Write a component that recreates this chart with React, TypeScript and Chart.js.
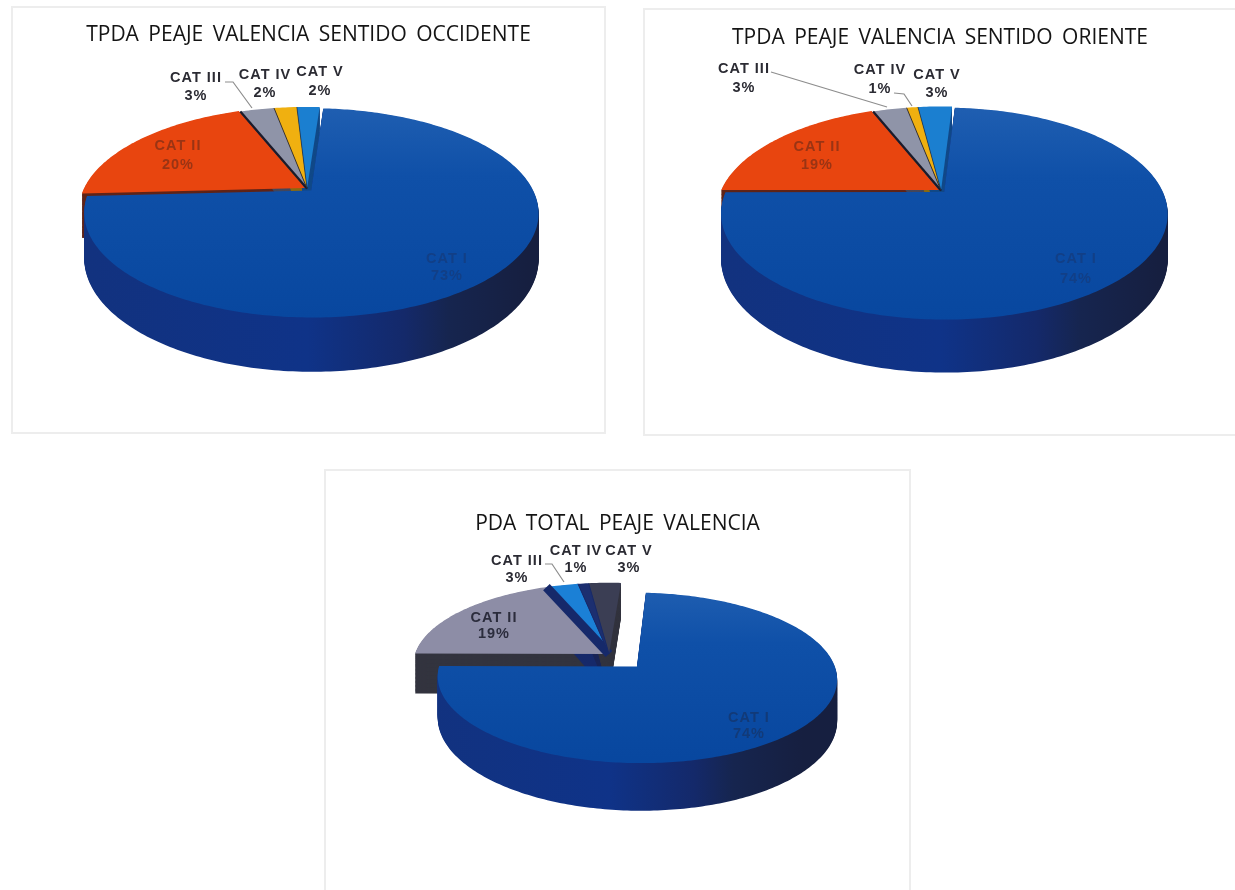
import React, { useEffect, useRef } from "react";
import { Chart, registerables } from "chart.js";

Chart.register(...registerables);

const categories = ["CAT I", "CAT II", "CAT III", "CAT IV", "CAT V"];
const occidenteValues = [73, 20, 3, 2, 2];
const orienteValues = [74, 19, 3, 1, 3];
const totalValues = [74, 19, 3, 1, 3];
const occidenteTitle = "TPDA PEAJE VALENCIA SENTIDO OCCIDENTE";
const orienteTitle = "TPDA PEAJE VALENCIA SENTIDO ORIENTE";
const totalTitle = "PDA TOTAL PEAJE VALENCIA";

const warmFaces = ["#0b4ca3", "#e8450f", "#8f94a8", "#f0b010", "#1b7fd0"];
const warmSides = ["#10358a", "#5f2418", "#44465a", "#8a6a10", "#124a88"];
const warmLabels = ["#123f86", "#9a3414", "#2b2b33", "#2b2b33", "#2b2b33"];
const coolFaces = ["#0b4ca3", "#8d8da6", "#1b80d6", "#1c2f70", "#3b3e54"];
const coolSides = ["#10358a", "#33343f", "#16296a", "#1a2557", "#33343f"];
const coolLabels = ["#123a78", "#2b2c3c", "#2b2b33", "#2b2b33", "#2b2b33"];

type Geo = { ax: number; ay: number; rx: number; ry: number; k: number; d: number; e: number };
type Cfg = {
  panel: [number, number, number, number];
  title: string;
  titleTop: number;
  values: number[];
  offsets: number[];
  rotation: number;
  faces: string[];
  sides: string[];
  labelColors: string[];
  geo: Geo;
  walls: number[];
  wallColor: string;
  labelAt: [number, number, number][];
  leaders: [number, number][][];
};

const configs: Cfg[] = [
  {
    panel: [11, 6, 595, 428],
    title: occidenteTitle, titleTop: 14,
    values: occidenteValues, offsets: [5, 2, 0, 0, 0], rotation: 4,
    faces: warmFaces, sides: warmSides, labelColors: warmLabels,
    geo: { ax: 305, ay: 186.5, rx: 221, ry: 99, k: -0.2135, d: 44, e: 0.08 },
    walls: [0, 0, 2.2, 0.8, 0.6], wallColor: "#1b1b2b",
    labelAt: [[445, 257, 274], [176, 144, 163], [194, 76, 94], [263, 73, 91], [318, 70, 89]],
    leaders: [[[223, 80], [231, 80], [250, 106]]],
  },
  {
    panel: [643, 8, 594, 428],
    title: orienteTitle, titleTop: 15,
    values: orienteValues, offsets: [4, 2, 0, 0, 0], rotation: 3.5,
    faces: warmFaces, sides: warmSides, labelColors: warmLabels,
    geo: { ax: 939, ay: 188.5, rx: 218, ry: 101, k: -0.2019, d: 44, e: 0.07 },
    walls: [0, 0, 2.2, 0.8, 0.6], wallColor: "#1b1b2b",
    labelAt: [[1074, 257, 277], [815, 145, 163], [742, 67, 86], [878, 68, 87], [935, 73, 91]],
    leaders: [[[769, 70], [885, 105]], [[892, 91], [902, 92], [910, 104]]],
  },
  {
    panel: [324, 469, 587, 430],
    title: totalTitle, titleTop: 40,
    values: totalValues, offsets: [33, 0, 0, 0, 0], rotation: 4,
    faces: coolFaces, sides: coolSides, labelColors: coolLabels,
    geo: { ax: 607, ay: 652, rx: 194, ry: 80.5, k: -0.13, d: 40, e: 0.07 },
    walls: [0, 0, 9, 1, 1], wallColor: "#16296a",
    labelAt: [[747, 716, 732], [492, 616, 632], [515, 559, 576], [574, 549, 566], [627, 549, 566]],
    leaders: [[[543, 562], [550, 562], [562, 580]]],
  },
];

function makePlugin(cfg: Cfg) {
  const [px, py] = cfg.panel;
  const g = cfg.geo;
  const project = (u: number, v: number, t: number) => {
    const w = 1 + g.k * v;
    return {
      x: g.ax - px + (g.rx * u) / w,
      y: g.ay - py + ((g.ry * v) / w) * (1 + t * g.e) + t * g.d,
    };
  };
  const trace = (ctx: CanvasRenderingContext2D, arc: any, t: number) => {
    const off = (arc.options.offset || 0) / arc.outerRadius;
    const mid = (arc.startAngle + arc.endAngle) / 2;
    const ou = Math.cos(mid) * off;
    const ov = Math.sin(mid) * off;
    const n = Math.max(2, Math.ceil((arc.endAngle - arc.startAngle) * 60));
    ctx.beginPath();
    const o = project(ou, ov, t);
    ctx.moveTo(o.x, o.y);
    for (let i = 0; i <= n; i++) {
      const a = arc.startAngle + ((arc.endAngle - arc.startAngle) * i) / n;
      const p = project(ou + Math.cos(a), ov + Math.sin(a), t);
      ctx.lineTo(p.x, p.y);
    }
    ctx.closePath();
  };
  const steps = Math.ceil(g.d + 10);
  const drawSide = (ctx: CanvasRenderingContext2D, arc: any, fill: any) => {
    for (let s = steps; s > 0; s--) {
      trace(ctx, arc, s / steps);
      ctx.fillStyle = fill;
      ctx.fill();
    }
  };
  return {
    id: "tilted" + cfg.title,
    beforeDraw(chart: any) {
      const ctx: any = chart.ctx;
      ctx.letterSpacing = "0px";
      ctx.wordSpacing = "4px";
    },
    beforeDatasetsDraw(chart: any) {
      const ctx: CanvasRenderingContext2D = chart.ctx;
      const arcs = chart.getDatasetMeta(0).data as any[];
      const left = g.ax - px - g.rx;
      const right = g.ax - px + g.rx;
      const sideGrad = ctx.createLinearGradient(left, 0, right, 0);
      sideGrad.addColorStop(0, "#12327f");
      sideGrad.addColorStop(0.5, "#0f3388");
      sideGrad.addColorStop(0.72, "#14296a");
      sideGrad.addColorStop(0.82, "#16254f");
      sideGrad.addColorStop(1, "#161f40");
      const topY = g.ay - py - g.ry * 0.9;
      const faceGrad = ctx.createLinearGradient(0, topY, 0, topY + g.ry * 2.2);
      faceGrad.addColorStop(0, "#2160b2");
      faceGrad.addColorStop(0.35, "#0f50a8");
      faceGrad.addColorStop(1, "#08479f");
      const others = [1, 2, 3, 4];
      ctx.save();
      for (const i of others) drawSide(ctx, arcs[i], cfg.sides[i]);
      for (const i of others) {
        const arc = arcs[i];
        trace(ctx, arc, 0);
        ctx.fillStyle = cfg.faces[i];
        ctx.fill();
        if (cfg.walls[i] > 0) {
          const a = project(0, 0, 0);
          const b = project(Math.cos(arc.startAngle), Math.sin(arc.startAngle), 0);
          ctx.strokeStyle = cfg.wallColor;
          ctx.lineWidth = cfg.walls[i];
          ctx.beginPath();
          ctx.moveTo(a.x, a.y);
          ctx.lineTo(b.x, b.y);
          ctx.stroke();
        }
      }
      drawSide(ctx, arcs[0], sideGrad);
      trace(ctx, arcs[0], 0);
      ctx.fillStyle = faceGrad;
      ctx.fill();
      ctx.restore();
      return false;
    },
    afterDraw(chart: any) {
      const ctx: any = chart.ctx;
      ctx.save();
      ctx.strokeStyle = "#8d8d8d";
      ctx.lineWidth = 1.2;
      for (const line of cfg.leaders) {
        ctx.beginPath();
        line.forEach(([x, y], j) => (j ? ctx.lineTo(x - px, y - py) : ctx.moveTo(x - px, y - py)));
        ctx.stroke();
      }
      ctx.letterSpacing = "1px";
      ctx.wordSpacing = "0px";
      ctx.font = "bold 14.5px 'Liberation Sans'";
      ctx.textAlign = "center";
      ctx.textBaseline = "middle";
      cfg.labelAt.forEach(([x, y1, y2], i) => {
        ctx.fillStyle = cfg.labelColors[i];
        ctx.fillText(categories[i], x - px, y1 - py);
        ctx.fillText(cfg.values[i] + "%", x - px, y2 - py);
      });
      ctx.restore();
    },
  };
}

function PieCard({ cfg }: { cfg: Cfg }) {
  const ref = useRef<HTMLCanvasElement | null>(null);
  useEffect(() => {
    if (!ref.current) return;
    const chart = new Chart(ref.current, {
      type: "pie",
      data: {
        labels: categories,
        datasets: [
          {
            data: cfg.values,
            backgroundColor: cfg.faces,
            offset: cfg.offsets,
            borderWidth: 0,
          },
        ],
      },
      options: {
        responsive: false,
        animation: false,
        devicePixelRatio: 1,
        rotation: cfg.rotation,
        layout: { padding: 0 },
        plugins: {
          legend: { display: false },
          tooltip: { enabled: false },
          title: {
            display: true,
            text: cfg.title,
            color: "#141414",
            font: { family: "'Open Sans'", size: 21, weight: "normal" },
            padding: { top: cfg.titleTop, bottom: 10 },
          },
        },
      },
      plugins: [makePlugin(cfg)],
    } as any);
    return () => chart.destroy();
  }, [cfg]);
  const [left, top, width, height] = cfg.panel;
  return (
    <div
      style={{
        position: "absolute",
        left,
        top,
        width,
        height,
        boxSizing: "border-box",
        border: "2px solid #ededed",
        background: "#fff",
      }}
    >
      <canvas
        ref={ref}
        width={width - 4}
        height={height - 4}
        style={{ display: "block", width: width - 4, height: height - 4, filter: "blur(0.5px)" }}
      />
    </div>
  );
}

export default function App() {
  return (
    <div style={{ position: "fixed", left: 0, top: 0, width: 1235, height: 890, overflow: "hidden", background: "#fff" }}>
      {configs.map((c) => (
        <PieCard key={c.title} cfg={c} />
      ))}
    </div>
  );
}
